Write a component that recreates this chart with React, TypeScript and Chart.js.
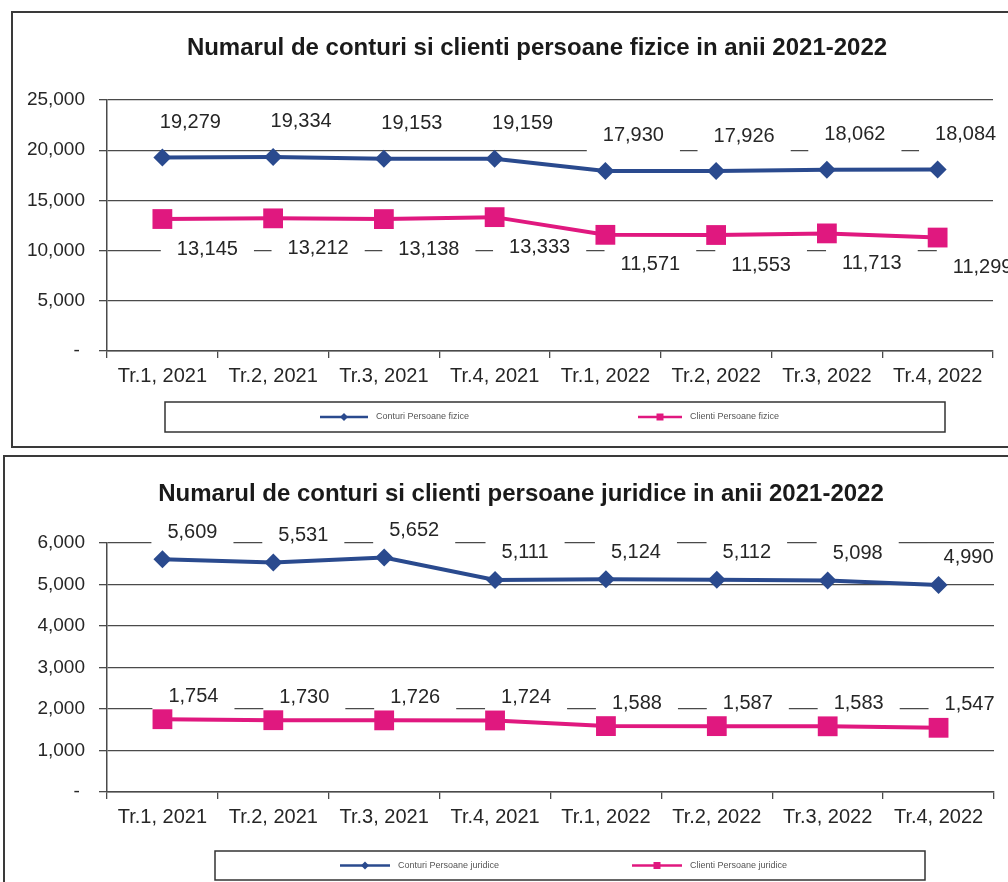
import React, { useEffect, useRef } from "react";
import { Chart, registerables } from "chart.js";

Chart.register(...registerables);

// ---------- data ----------
const quarters = [
  "Tr.1, 2021",
  "Tr.2, 2021",
  "Tr.3, 2021",
  "Tr.4, 2021",
  "Tr.1, 2022",
  "Tr.2, 2022",
  "Tr.3, 2022",
  "Tr.4, 2022",
];

const conturiFizice = [19279, 19334, 19153, 19159, 17930, 17926, 18062, 18084];
const clientiFizice = [13145, 13212, 13138, 13333, 11571, 11553, 11713, 11299];

const conturiJuridice = [5609, 5531, 5652, 5111, 5124, 5112, 5098, 4990];
const clientiJuridice = [1754, 1730, 1726, 1724, 1588, 1587, 1583, 1547];

const titleFizice = "Numarul de conturi si clienti persoane fizice in anii 2021-2022";
const titleJuridice = "Numarul de conturi si clienti persoane juridice in anii 2021-2022";

const seriesFizice = ["Conturi Persoane fizice", "Clienti Persoane fizice"];
const seriesJuridice = ["Conturi Persoane juridice", "Clienti Persoane juridice"];

const yMaxFizice = 25000;
const yStepFizice = 5000;
const yMaxJuridice = 6000;
const yStepJuridice = 1000;

// ---------- styles ----------
const BLUE = "#2a4a8e";
const PINK = "#e0187f";
const GRID = "#4a4a4a";
const TEXT = "#262626";
const FONT = "'Liberation Sans', Arial, sans-serif";

const fmt = (v: number) => (v === 0 ? "- " : Number(v).toLocaleString("en-US"));

const decorPlugin = {
  id: "decor",
  beforeDatasetsDraw(chart: any, _args: any, opts: any) {
    const ctx = chart.ctx;
    ctx.save();
    ctx.font = `${opts.labelSize}px ${FONT}`;
    ctx.textAlign = "center";
    ctx.textBaseline = "middle";
    chart.data.datasets.forEach((ds: any, i: number) => {
      const meta = chart.getDatasetMeta(i);
      const off = opts.labelOffsets[i];
      meta.data.forEach((el: any, j: number) => {
        const text = fmt(ds.data[j]);
        const w = ctx.measureText(text).width;
        const tx = el.x + off.dx;
        const ty = el.y + off.dy;
        ctx.fillStyle = "#ffffff";
        ctx.fillRect(tx - w / 2 - opts.boxPadX, ty - opts.boxH / 2, w + 2 * opts.boxPadX, opts.boxH);
        ctx.fillStyle = TEXT;
        ctx.fillText(text, tx, ty);
      });
    });
    ctx.restore();
  },
  afterDraw(chart: any, _args: any, opts: any) {
    const ctx = chart.ctx;
    ctx.save();
    // title
    ctx.font = `bold ${opts.titleSize}px ${FONT}`;
    ctx.fillStyle = "#1a1a1a";
    ctx.textAlign = "center";
    ctx.textBaseline = "middle";
    ctx.fillText(opts.title, opts.titleX, opts.titleY);
    // legend box
    const lg = opts.legend;
    ctx.strokeStyle = "#333333";
    ctx.lineWidth = 1.5;
    ctx.strokeRect(lg.x, lg.y, lg.w, lg.h);
    const cy = lg.y + lg.h / 2;
    ctx.font = `${lg.fontSize}px ${FONT}`;
    ctx.textAlign = "left";
    chart.data.datasets.forEach((ds: any, i: number) => {
      const it = lg.items[i];
      ctx.strokeStyle = ds.borderColor;
      ctx.lineWidth = 2.5;
      ctx.beginPath();
      ctx.moveTo(it.x1, cy);
      ctx.lineTo(it.x2, cy);
      ctx.stroke();
      const mx = (it.x1 + it.x2) / 2;
      ctx.fillStyle = ds.borderColor;
      ctx.beginPath();
      if (ds.pointStyle === "rectRot") {
        ctx.moveTo(mx - 4, cy);
        ctx.lineTo(mx, cy - 4);
        ctx.lineTo(mx + 4, cy);
        ctx.lineTo(mx, cy + 4);
        ctx.closePath();
      } else {
        ctx.rect(mx - 3.5, cy - 3.5, 7, 7);
      }
      ctx.fill();
      ctx.fillStyle = "#555555";
      ctx.fillText(ds.label, it.x2 + 8, cy);
    });
    ctx.restore();
  },
};

type Cfg = {
  left: number;
  top: number;
  width: number;
  height: number;
  seriesA: number[];
  seriesB: number[];
  names: string[];
  yMax: number;
  yStep: number;
  yWidth: number;
  pad: { top: number; right: number; bottom: number };
  decor: any;
};

function LineChart({ cfg }: { cfg: Cfg }) {
  const ref = useRef<HTMLCanvasElement | null>(null);
  useEffect(() => {
    if (!ref.current) return;
    const chart = new Chart(ref.current, {
      type: "line",
      data: {
        labels: quarters,
        datasets: [
          {
            label: cfg.names[0],
            data: cfg.seriesA,
            borderColor: BLUE,
            backgroundColor: BLUE,
            borderWidth: 4,
            pointStyle: "rectRot",
            pointRadius: 9,
            pointHoverRadius: 9,
            pointBorderWidth: 0,
            tension: 0,
          },
          {
            label: cfg.names[1],
            data: cfg.seriesB,
            borderColor: PINK,
            backgroundColor: PINK,
            borderWidth: 4,
            pointStyle: "rect",
            pointRadius: 14,
            pointHoverRadius: 14,
            pointBorderWidth: 0,
            tension: 0,
          },
        ],
      },
      options: {
        responsive: false,
        animation: false,
        events: [],
        layout: { padding: { left: 0, right: cfg.pad.right, top: cfg.pad.top, bottom: cfg.pad.bottom } },
        plugins: {
          legend: { display: false },
          title: { display: false },
          tooltip: { enabled: false },
          decor: cfg.decor,
        } as any,
        scales: {
          x: {
            offset: true,
            grid: {
              offset: true,
              drawOnChartArea: false,
              drawTicks: true,
              tickLength: 7,
              color: GRID,
              lineWidth: 1.3,
            },
            border: { display: true, color: GRID, width: 1.5 },
            ticks: { color: TEXT, font: { size: 20, family: FONT }, padding: 6, maxRotation: 0, autoSkip: false },
            afterFit: (s: any) => {
              s.height = 40;
            },
          },
          y: {
            min: 0,
            max: cfg.yMax,
            grid: { color: GRID, lineWidth: 1.3, drawTicks: true, tickLength: 8 },
            border: { display: true, color: GRID, width: 1.5 },
            ticks: {
              stepSize: cfg.yStep,
              color: TEXT,
              font: { size: 19, family: FONT },
              padding: 14,
              callback: (v: any) => fmt(Number(v)),
            },
            afterFit: (s: any) => {
              s.width = cfg.yWidth;
            },
          },
        },
      },
      plugins: [decorPlugin as any],
    });
    return () => chart.destroy();
  }, []);
  return (
    <canvas
      ref={ref}
      width={cfg.width}
      height={cfg.height}
      style={{ position: "absolute", left: cfg.left, top: cfg.top, width: cfg.width, height: cfg.height }}
    />
  );
}

const topCfg: Cfg = {
  left: 14,
  top: 14,
  width: 994,
  height: 431,
  seriesA: conturiFizice,
  seriesB: clientiFizice,
  names: seriesFizice,
  yMax: yMaxFizice,
  yStep: yStepFizice,
  yWidth: 93,
  pad: { top: 86, right: 15, bottom: 54 },
  decor: {
    title: titleFizice,
    titleSize: 24,
    titleX: 523,
    titleY: 34,
    labelSize: 20,
    boxH: 40,
    boxPadX: 16,
    labelOffsets: [
      { dx: 28, dy: -35 },
      { dx: 45, dy: 30 },
    ],
    legend: {
      x: 151,
      y: 388,
      w: 780,
      h: 30,
      fontSize: 9,
      items: [
        { x1: 306, x2: 354 },
        { x1: 624, x2: 668 },
      ],
    },
  },
};

const bottomCfg: Cfg = {
  left: 6,
  top: 458,
  width: 1002,
  height: 424,
  seriesA: conturiJuridice,
  seriesB: clientiJuridice,
  names: seriesJuridice,
  yMax: yMaxJuridice,
  yStep: yStepJuridice,
  yWidth: 101,
  pad: { top: 85, right: 10, bottom: 50 },
  decor: {
    title: titleJuridice,
    titleSize: 24,
    titleX: 515,
    titleY: 36,
    labelSize: 20,
    boxH: 28,
    boxPadX: 16,
    labelOffsets: [
      { dx: 30, dy: -27 },
      { dx: 31, dy: -23 },
    ],
    legend: {
      x: 209,
      y: 393,
      w: 710,
      h: 29,
      fontSize: 9,
      items: [
        { x1: 334, x2: 384 },
        { x1: 626, x2: 676 },
      ],
    },
  },
};

export default function App() {
  return (
    <div
      style={{
        position: "absolute",
        left: 0,
        top: 0,
        width: 1008,
        height: 882,
        overflow: "hidden",
        background: "#ffffff",
      }}
    >
      <div
        style={{
          position: "absolute",
          left: 11,
          top: 11,
          width: 1100,
          height: 437,
          boxSizing: "border-box",
          border: "2px solid #3a3a3a",
        }}
      />
      <div
        style={{
          position: "absolute",
          left: 3,
          top: 455,
          width: 1100,
          height: 500,
          boxSizing: "border-box",
          border: "2px solid #3a3a3a",
        }}
      />
      <LineChart cfg={topCfg} />
      <LineChart cfg={bottomCfg} />
    </div>
  );
}
